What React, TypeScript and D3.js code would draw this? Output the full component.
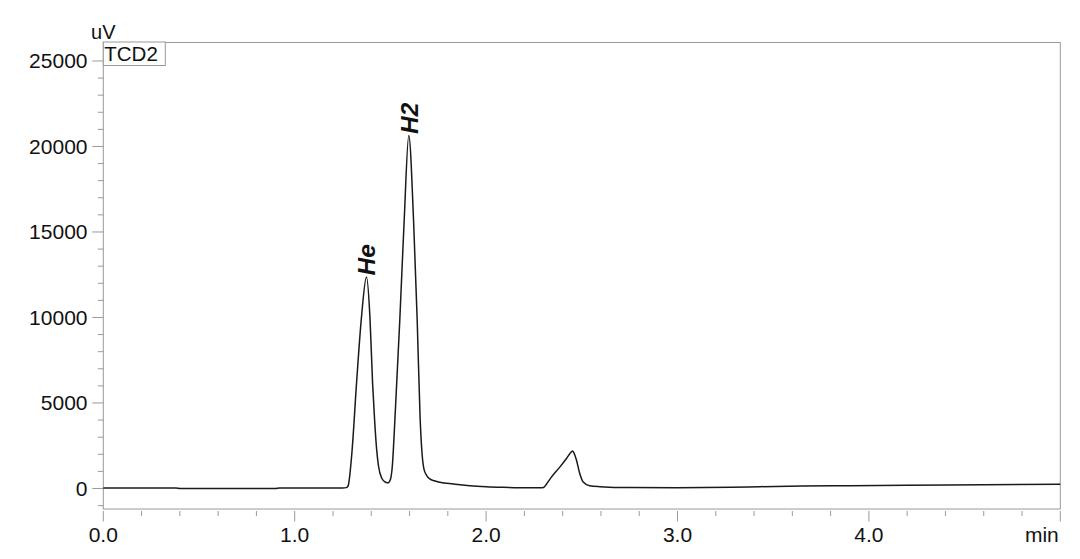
import React from "react";
import * as d3 from "d3";

const timeMin = [
  0, 0.2, 0.38, 0.4, 0.6, 0.9, 0.92, 1.1, 1.25, 1.27, 1.279, 1.285, 1.29, 1.3,
  1.323, 1.349, 1.375, 1.393, 1.407, 1.418, 1.428, 1.438, 1.455, 1.47, 1.483,
  1.49, 1.5, 1.51, 1.523, 1.549, 1.572, 1.596, 1.621, 1.64, 1.655, 1.665, 1.675,
  1.69, 1.706, 1.73, 1.758, 1.828, 1.915, 2.002, 2.089, 2.176, 2.28, 2.3, 2.315,
  2.34, 2.385, 2.42, 2.446, 2.451, 2.458, 2.472, 2.489, 2.506, 2.541, 2.593,
  2.75, 3.0, 3.28, 3.43, 3.65, 3.9, 4.42, 5.0,
];
const signalUV = [
  30, 30, 25, 5, 0, 5, 25, 30, 30, 50, 150, 500, 1000, 2249,
  6145, 10035, 12371, 10035, 6145, 3900, 2300, 1300, 600, 400, 330,
  340, 520, 1300, 3900, 9842, 15683, 20648, 15683, 9842, 4200, 2100, 1150,
  750, 560, 450, 362, 263, 164, 105, 70, 47, 40, 60, 250,
  650, 1250, 1750, 2150, 2190, 2100, 1665, 888, 397, 164, 105,
  50, 47, 70, 105, 146, 164, 204, 245,
];

const xMajorTicks = [0, 1, 2, 3, 4, 5];
const xTickLabels = ["0.0", "1.0", "2.0", "3.0", "4.0", "min"];
const yMajorTicks = [0, 5000, 10000, 15000, 20000, 25000];
const yTickLabels = ["0", "5000", "10000", "15000", "20000", "25000"];
const peakNames = ["He", "H2"];
const peakTimes = [1.375, 1.596];
const peakHeights = [12371, 20648];
const detectorName = "TCD2";
const yUnit = "uV";

const W = 1080;
const H = 559;
const L = 103.3;
const R = 1060.3;
const T = 42.5;
const B = 509;

export default function App() {
  const x = d3.scaleLinear().domain([0, 5]).range([L, R]);
  const y = d3.scaleLinear().domain([-1200, 26080]).range([B, T]);
  const pts: [number, number][] = timeMin.map((t, i) => [t, signalUV[i]]);
  const line = d3
    .line<[number, number]>()
    .x((d) => x(d[0]))
    .y((d) => y(d[1]))
    .curve(d3.curveMonotoneX);

  const xMinor = d3.range(0, 25.5, 1).map((i) => i * 0.2);
  const yMinor = d3.range(-1, 26).map((i) => i * 1000);
  const axisColor = "#9a9a9a";
  const font = "Arial, 'Liberation Sans', Helvetica, sans-serif";

  return (
    <svg
      width={W}
      height={H}
      style={{ position: "absolute", left: 0, top: 0, background: "#fff" }}
      fontFamily={font}
    >
      <rect x={0} y={0} width={W} height={H} fill="#fff" />
      <rect
        x={L}
        y={T}
        width={R - L}
        height={B - T}
        fill="none"
        stroke={axisColor}
        strokeWidth={1}
      />
      {yMinor.map((v) => {
        const major = v % 5000 === 0;
        return (
          <line
            key={"ym" + v}
            x1={major ? L - 11 : L - 5.5}
            x2={L}
            y1={y(v)}
            y2={y(v)}
            stroke={axisColor}
            strokeWidth={1}
          />
        );
      })}
      {yMajorTicks.map((v, i) => (
        <text
          key={"yl" + v}
          x={87.5}
          y={y(v)}
          textAnchor="end"
          dominantBaseline="central"
          fontSize={21}
          fill="#111"
        >
          {yTickLabels[i]}
        </text>
      ))}
      {xMinor.map((t, i) => {
        const major = i % 5 === 0;
        return (
          <line
            key={"xm" + i}
            x1={x(t)}
            x2={x(t)}
            y1={B + 2}
            y2={major ? B + 12.5 : B + 7}
            stroke={axisColor}
            strokeWidth={1}
          />
        );
      })}
      {xMajorTicks.map((t, i) => (
        <text
          key={"xl" + t}
          x={i === xMajorTicks.length - 1 ? x(t) - 1.5 : x(t)}
          y={542}
          textAnchor={i === xMajorTicks.length - 1 ? "end" : "middle"}
          fontSize={21}
          fill="#111"
        >
          {xTickLabels[i]}
        </text>
      ))}
      <text x={L} y={38.5} textAnchor="middle" fontSize={20} fill="#111">
        {yUnit}
      </text>
      <rect
        x={L}
        y={T - 0.5}
        width={62}
        height={23.5}
        fill="#fff"
        stroke={axisColor}
        strokeWidth={1}
      />
      <text x={L + 1} y={61} fontSize={20.5} fill="#111">
        {detectorName}
      </text>
      <path
        d={line(pts) || ""}
        fill="none"
        stroke="#1a1a1a"
        strokeWidth={1.5}
        strokeLinejoin="round"
      />
      {peakNames.map((n, i) => {
        const px = x(peakTimes[i]) + 9;
        const py = y(peakHeights[i]) - 1.5;
        return (
          <text
            key={n}
            transform={`translate(${px},${py}) rotate(-90)`}
            fontSize={24.5}
            fontWeight="bold"
            fontStyle="italic"
            fill="#111"
          >
            {n}
          </text>
        );
      })}
    </svg>
  );
}
